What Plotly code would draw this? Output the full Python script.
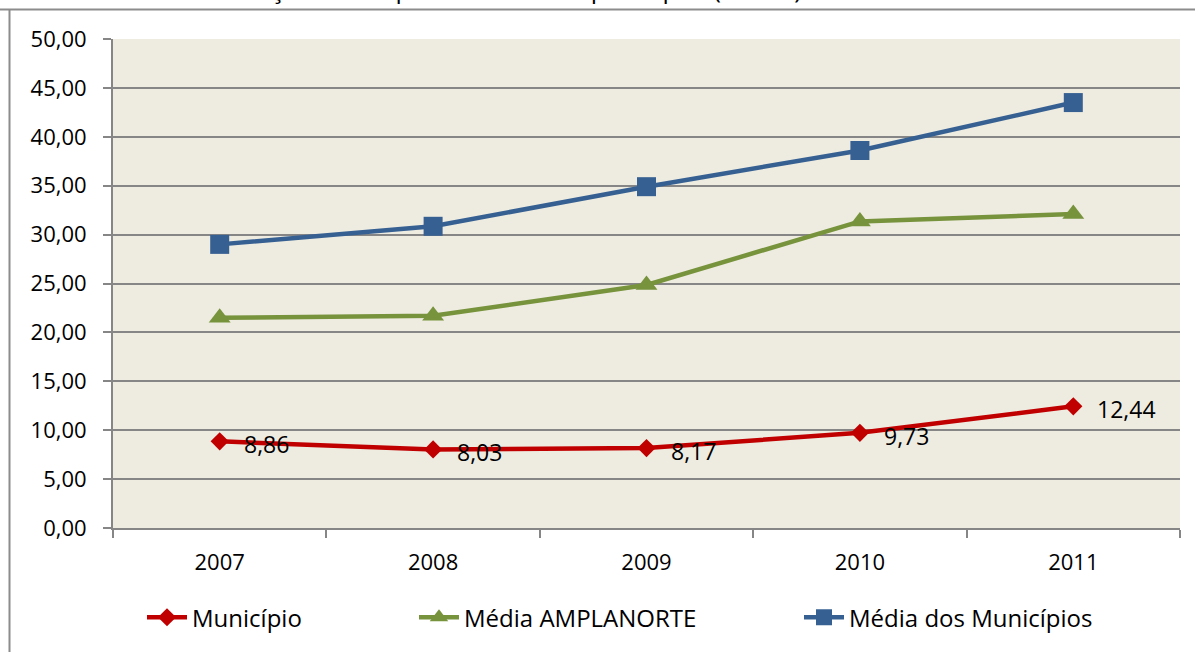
import plotly.graph_objects as go

years = ["2007", "2008", "2009", "2010", "2011"]
municipio = [8.86, 8.03, 8.17, 9.73, 12.44]
media_amplanorte = [21.5, 21.7, 24.85, 31.35, 32.1]
media_municipios = [29.0, 30.85, 34.9, 38.6, 43.5]
municipio_labels = ["8,86", "8,03", "8,17", "9,73", "12,44"]
series_names = ["Município", "Média AMPLANORTE", "Média dos Municípios"]
colors = ["#C00000", "#77933C", "#376092"]

W, H = 1195, 652
ML, MR, MT, MB = 113, 15, 39, 122
PW, PH = W - ML - MR, H - MT - MB


def px(x):
    return (x - ML) / PW


def py(y):
    return (H - MB - y) / PH


FONT = "'Open Sans', Lato, sans-serif"
FS_TICK = 22
FS_LAB = 23
FS_LEG = 24

fig = go.Figure()
fig.add_trace(go.Scatter(
    x=years, y=municipio, name=series_names[0], mode="lines+markers",
    line=dict(color=colors[0], width=4.5),
    marker=dict(symbol="diamond", size=14, color=colors[0]),
    legend="legend", showlegend=True,
))
fig.add_trace(go.Scatter(
    x=years, y=media_amplanorte, name=series_names[1], mode="lines+markers",
    line=dict(color=colors[1], width=4.5),
    marker=dict(symbol="triangle-up", size=19, color=colors[1]),
    legend="legend2", showlegend=True,
))
fig.add_trace(go.Scatter(
    x=years, y=media_municipios, name=series_names[2], mode="lines+markers",
    line=dict(color=colors[2], width=4.5),
    marker=dict(symbol="square", size=19, color=colors[2]),
    legend="legend3", showlegend=True,
))

for i, (v, lab) in enumerate(zip(municipio, municipio_labels)):
    fig.add_annotation(x=i, y=v, text=lab, showarrow=False, xanchor="left",
                       yanchor="middle", xshift=22, yshift=-3,
                       font=dict(family=FONT, size=FS_LAB, color="#000000"))

# partially visible (clipped) title at the very top
fig.add_annotation(xref="paper", yref="paper", x=px(505), y=py(-12),
                   xanchor="center", yanchor="middle", showarrow=False,
                   text="Evolução da despesa com saúde per capita (em R$)",
                   font=dict(family=FONT, size=25, color="#000000"))

# chart area frame (top and left border)
fig.add_shape(type="line", xref="paper", yref="paper", x0=px(-5), x1=px(W + 5),
              y0=py(9.5), y1=py(9.5), line=dict(color="#8C8C8C", width=2))
fig.add_shape(type="line", xref="paper", yref="paper", x0=px(9.5), x1=px(9.5),
              y0=py(9.5), y1=py(H + 5), line=dict(color="#8C8C8C", width=2))

leg_common = dict(orientation="h", xanchor="left", yanchor="middle",
                  bgcolor="rgba(0,0,0,0)",
                  font=dict(family=FONT, size=FS_LEG, color="#000000"),
                  itemwidth=40, visible=True)

fig.update_layout(
    width=W, height=H,
    margin=dict(l=ML, r=MR, t=MT, b=MB),
    paper_bgcolor="#FFFFFF",
    plot_bgcolor="#EEECE1",
    separators=",.",
    showlegend=True,
    font=dict(family=FONT, size=FS_TICK, color="#000000"),
    legend=dict(x=px(142), y=py(620), **leg_common),
    legend2=dict(x=px(414), y=py(620), **leg_common),
    legend3=dict(x=px(799), y=py(620), **leg_common),
    xaxis=dict(
        type="category", tickson="boundaries", ticks="outside", ticklen=8,
        tickcolor="#868686", tickwidth=2, showline=True, linecolor="#868686",
        linewidth=2, showgrid=False, zeroline=False, range=[-0.5, 4.5],
        tickfont=dict(family=FONT, size=FS_TICK), ticklabelstandoff=14,
    ),
    yaxis=dict(
        range=[0, 50], dtick=5, tick0=0, tickformat=".2f", ticks="outside",
        ticklen=8, tickcolor="#868686", tickwidth=2, showline=True,
        linecolor="#868686", linewidth=2, showgrid=True, gridcolor="#868686",
        gridwidth=2, zeroline=False, tickfont=dict(family=FONT, size=FS_TICK),
        ticklabelstandoff=12,
    ),
)

fig.write_html(
    "out.html",
    config={"displayModeBar": False},
    post_script="document.body.style.margin='0';document.body.style.padding='0';"
                "document.body.style.overflow='hidden';",
)
